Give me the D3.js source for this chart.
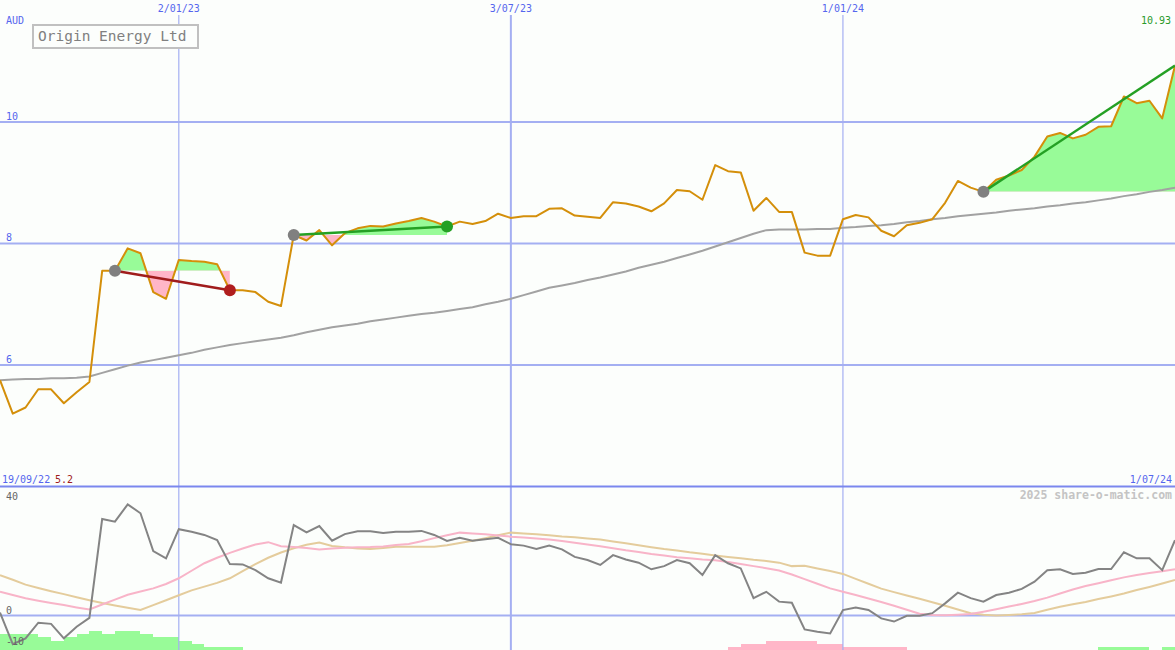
<!DOCTYPE html>
<html><head><meta charset="utf-8">
<script src="https://cdn.jsdelivr.net/npm/d3@7"></script>
<style>
html,body{margin:0;padding:0;background:#fcfefc;}
svg{display:block;}
text{font-family:"DejaVu Sans Mono","Liberation Mono",monospace;}
</style></head><body>
<svg id="chart" width="1175" height="650"></svg>
<script>
// ---------- DATA ----------
const firstWeek = "2022-09-26";
const lastWeek = "2024-07-01";
const rangeStartLabel = "19/09/22";
const rangeEndLabel = "1/07/24";
const minLabel = "5.2";
const lastLabel = "10.93";
const title = "Origin Energy Ltd";
const currency = "AUD";
const credit = "2025 share-o-matic.com";

// weekly close (AUD)
const price = [5.75,5.20,5.30,5.60,5.60,5.37,5.55,5.72,7.55,7.55,
  7.92,7.84,7.20,7.09,7.73,7.71,7.70,7.66,7.23,7.23,
  7.20,7.04,6.97,8.14,8.05,8.22,7.97,8.17,8.25,8.29,
  8.28,8.33,8.37,8.42,8.36,8.28,8.36,8.32,8.37,8.49,
  8.42,8.45,8.45,8.57,8.58,8.46,8.44,8.42,8.68,8.66,
  8.61,8.53,8.66,8.88,8.86,8.72,9.29,9.19,9.17,8.54,
  8.75,8.52,8.52,7.85,7.80,7.80,8.40,8.47,8.43,8.21,
  8.12,8.30,8.34,8.40,8.67,9.03,8.92,8.85,9.05,9.12,
  9.21,9.43,9.76,9.82,9.73,9.79,9.92,9.93,10.42,10.31,
  10.35,10.06,10.93];
// long moving average (grey)
const priceMA = [5.75,5.76,5.77,5.77,5.78,5.78,5.79,5.81,5.87,5.93,
  5.99,6.04,6.08,6.12,6.16,6.20,6.25,6.29,6.33,6.36,
  6.39,6.42,6.45,6.49,6.54,6.58,6.62,6.65,6.68,6.72,
  6.75,6.78,6.81,6.84,6.86,6.89,6.92,6.95,7.00,7.04,
  7.09,7.15,7.21,7.27,7.31,7.35,7.40,7.44,7.49,7.54,
  7.60,7.65,7.70,7.76,7.82,7.88,7.95,8.02,8.09,8.16,
  8.22,8.23,8.23,8.23,8.24,8.24,8.26,8.27,8.29,8.30,
  8.32,8.35,8.37,8.40,8.42,8.45,8.47,8.49,8.51,8.54,
  8.56,8.58,8.61,8.63,8.66,8.68,8.71,8.74,8.78,8.81,
  8.85,8.88,8.92];
// oscillator (dark grey)
const osc = [1.0,-9.9,-7.9,-2.5,-2.9,-7.9,-3.9,-0.8,33.4,32.5,
  38.5,35.4,22.3,19.8,29.9,29.0,27.9,26.1,17.8,17.7,
  15.7,12.9,11.4,31.3,28.8,31.0,25.9,28.2,29.2,29.2,
  28.6,29.0,29.0,29.3,27.9,25.8,26.9,25.9,26.4,26.9,
  24.7,24.2,23.0,24.2,22.9,20.3,19.2,17.5,20.9,19.4,
  18.3,16.0,17.1,19.2,18.1,14.0,20.9,18.1,16.3,6.0,
  8.2,4.8,4.4,-4.8,-5.6,-6.2,1.9,2.8,1.9,-1.0,
  -2.1,-0.1,-0.1,0.8,4.2,7.9,6.0,4.8,7.1,7.9,
  9.2,11.7,15.7,16.0,14.4,14.8,16.1,16.1,21.9,19.8,
  19.8,15.7,26.1];
// oscillator signal lines
const oscFast = [8.2,7.1,6.0,5.1,4.3,3.6,2.8,2.1,3.8,5.5,
  7.2,8.3,9.4,10.9,12.9,15.5,18.1,20.0,21.7,23.2,
  24.6,25.4,24.0,23.7,23.4,22.9,23.2,23.5,23.6,23.7,
  23.9,24.4,24.8,25.7,26.8,27.8,28.7,28.4,28.1,27.7,
  27.3,27.0,26.7,26.3,25.8,25.2,24.6,24.0,23.3,22.6,
  22.0,21.3,20.8,20.2,19.8,19.4,19.1,18.5,17.8,17.1,
  16.4,15.6,14.2,12.6,11.0,9.4,8.2,7.1,5.9,4.7,
  3.4,2.0,0.6,0.2,0.1,0.3,0.5,1.3,2.2,3.1,
  4.0,5.0,6.2,7.6,9.0,10.2,11.2,12.2,13.2,14.0,
  14.7,15.3,16.0];
const oscSlow = [14.0,12.4,10.7,9.5,8.4,7.4,6.3,5.3,4.3,3.5,
  2.7,1.9,3.6,5.3,7.0,8.7,10.0,11.3,12.9,15.4,
  17.8,20.0,21.8,23.3,24.5,25.3,24.1,23.6,23.2,23.0,
  23.4,23.8,23.8,23.8,23.8,24.3,25.1,25.9,26.8,27.8,
  28.7,28.4,28.1,27.8,27.4,27.1,26.7,26.3,25.6,25.0,
  24.3,23.6,23.0,22.5,21.9,21.4,20.8,20.3,19.8,19.3,
  18.9,18.3,17.1,17.2,16.3,15.4,14.4,12.7,11.0,9.3,
  8.1,6.9,5.8,4.6,3.4,2.1,0.8,0.3,0.0,0.2,
  0.4,0.9,2.0,3.0,3.9,4.7,5.7,6.6,7.6,8.8,
  9.9,11.1,12.3];
// weekly histogram (one per interval, + green / - pink)
const hist = [5,5,5,4,3,4,5,6,5,6, 6,5,4,4,3,2,1,1,1,0,
  0,0,0,0,0,0,0,0,0,0, 0,0,0,0,0,0,0,0,0,0,
  0,0,0,0,0,0,0,0,0,0, 0,0,0,0,0,0,0,-1,-2,-2,
  -3,-3,-3,-3,-2,-2,-1,-1,-1,-1, -1,0,0,0,0,0,0,0,0,0,
  0,0,0,0,0,0,1,1,1,1, 0,1];
const priceTicks = [10, 8, 6];
const oscTicks = [40, 0, -10];
const gridDates = ["2023-01-02", "2023-07-03", "2024-01-01"];
const gridLabels = ["2/01/23", "3/07/23", "1/01/24"];
const trendSegments = [
  {from: 9, to: 18, up: false},
  {from: 23, to: 35, up: true},
  {from: 77, to: 92, up: true}
];

// ---------- CHART ----------
const W = 1175, H = 650;
const svg = d3.select("#chart");
const parse = d3.utcParse("%Y-%m-%d");
const dates = d3.utcMonday.range(parse(firstWeek), d3.utcDay.offset(parse(lastWeek), 1));

const x = d3.scaleUtc().domain([parse(firstWeek), parse(lastWeek)]).range([0, W]);
const y = d3.scaleLinear().domain([4, 12]).range([486.5, 0.5]);
const y2 = d3.scaleLinear().domain([0, 40]).range([615.5, 500]);
const yH = d3.scaleLinear().domain([0, 6]).range([650, 631]);

const C = {
  bg: "#fcfefc", grid: "#a4aff2", sep: "#7b87ee", label: "#5566ee",
  price: "#d48f0a", ma: "#a2a2a2", osc: "#848484", fast: "#f8b4c8", slow: "#e4cc9c",
  green: "#98fb98", pink: "#ffb6c8", tGreen: "#24a024", tRed: "#a01c1c"
};

svg.append("rect").attr("width", W).attr("height", H).attr("fill", C.bg);

// histogram bars
svg.append("g").selectAll("rect").data(hist.map((v, i) => ({v, i})).filter(d => d.v !== 0))
  .join("rect")
  .attr("x", d => x(dates[d.i]))
  .attr("width", d => x(dates[d.i + 1]) - x(dates[d.i]))
  .attr("y", d => yH(Math.abs(d.v)))
  .attr("height", d => yH(0) - yH(Math.abs(d.v)))
  .attr("fill", d => d.v > 0 ? C.green : C.pink)
  .attr("shape-rendering", "crispEdges");

// horizontal grid
svg.append("g").selectAll("line").data(priceTicks).join("line")
  .attr("x1", 0).attr("x2", W).attr("y1", d => y(d)).attr("y2", d => y(d))
  .attr("stroke", C.grid).attr("stroke-width", 2);
svg.append("line").attr("x1", 0).attr("x2", W).attr("y1", y2(0)).attr("y2", y2(0))
  .attr("stroke", C.grid).attr("stroke-width", 2);
// vertical grid
svg.append("g").selectAll("line").data(gridDates).join("line")
  .attr("x1", d => x(parse(d))).attr("x2", d => x(parse(d)))
  .attr("y1", 15).attr("y2", H)
  .attr("stroke", C.grid).attr("stroke-width", (d, i) => i === 1 ? 2 : 1.2);
// panel separator
svg.append("line").attr("x1", 0).attr("x2", W).attr("y1", y(4)).attr("y2", y(4))
  .attr("stroke", C.sep).attr("stroke-width", 2);

// trend fills
const defs = svg.append("defs");
trendSegments.forEach((s, k) => {
  const base = price[s.from];
  const x0 = x(dates[s.from]), x1 = x(dates[s.to]);
  defs.append("clipPath").attr("id", "above" + k).append("rect")
    .attr("x", x0).attr("width", x1 - x0).attr("y", 0).attr("height", y(base));
  defs.append("clipPath").attr("id", "below" + k).append("rect")
    .attr("x", x0).attr("width", x1 - x0).attr("y", y(base)).attr("height", y(4) - y(base));
  const idx = d3.range(s.from, s.to + 1);
  const area = d3.area().x(i => x(dates[i])).y0(y(base)).y1(i => y(price[i]));
  svg.append("path").datum(idx).attr("d", area).attr("fill", C.green).attr("clip-path", `url(#above${k})`);
  svg.append("path").datum(idx).attr("d", area).attr("fill", C.pink).attr("clip-path", `url(#below${k})`);
});

// lines
const idxAll = d3.range(dates.length);
const lineOf = (arr, ys) => d3.line().x(i => x(dates[i])).y(i => ys(arr[i]));
svg.append("path").datum(idxAll).attr("d", lineOf(priceMA, y))
  .attr("fill", "none").attr("stroke", C.ma).attr("stroke-width", 2);
svg.append("path").datum(idxAll).attr("d", lineOf(price, y))
  .attr("fill", "none").attr("stroke", C.price).attr("stroke-width", 2).attr("stroke-linejoin", "round");

svg.append("path").datum(idxAll).attr("d", lineOf(oscSlow, y2))
  .attr("fill", "none").attr("stroke", C.slow).attr("stroke-width", 2);
svg.append("path").datum(idxAll).attr("d", lineOf(oscFast, y2))
  .attr("fill", "none").attr("stroke", C.fast).attr("stroke-width", 2);
svg.append("path").datum(idxAll).attr("d", lineOf(osc, y2))
  .attr("fill", "none").attr("stroke", C.osc).attr("stroke-width", 2);

// trend lines and dots
trendSegments.forEach(s => {
  const col = s.up ? C.tGreen : C.tRed;
  svg.append("line")
    .attr("x1", x(dates[s.from])).attr("y1", y(price[s.from]))
    .attr("x2", x(dates[s.to])).attr("y2", y(price[s.to]))
    .attr("stroke", col).attr("stroke-width", 2.5);
  svg.append("circle").attr("cx", x(dates[s.from])).attr("cy", y(price[s.from]))
    .attr("r", 6).attr("fill", "#808080");
  if (s.to < dates.length - 1)
    svg.append("circle").attr("cx", x(dates[s.to])).attr("cy", y(price[s.to]))
      .attr("r", 6).attr("fill", s.up ? "#24a024" : "#b01e1e");
});

// labels
const txt = (t, xx, yy, opts = {}) => svg.append("text").text(t)
  .attr("x", xx).attr("y", yy)
  .attr("font-size", opts.size || 10)
  .attr("font-weight", opts.weight || "normal")
  .attr("fill", opts.fill || C.label)
  .attr("text-anchor", opts.anchor || "start");

gridDates.forEach((d, i) => txt(gridLabels[i], x(parse(d)), 12, {anchor: "middle"}));
txt(currency, 6, 24);
priceTicks.forEach(v => txt(String(v), 6, y(v) - 2.5));
txt(lastLabel, 1171, 24, {fill: "#2a9a2a", anchor: "end"});
txt(rangeStartLabel, 2, 483);
txt(minLabel, 55, 483, {fill: "#a01c1c"});
txt(rangeEndLabel, 1172, 483, {anchor: "end"});
txt(credit, 1172, 499, {fill: "#c4c4c4", size: 11.5, weight: "bold", anchor: "end"});
oscTicks.forEach(v => txt(String(v), 6, y2(v) - (v === 0 ? 2 : 0) + (v === -10 ? 0.5 : 0), {fill: "#666666"}));

// title box
svg.append("rect").attr("x", 33).attr("y", 25).attr("width", 165).attr("height", 23)
  .attr("fill", "#fcfefc").attr("stroke", "#c0c0c0").attr("stroke-width", 2);
txt(title, 38, 41, {fill: "#808080", size: 14.5});
</script>
</body></html>
